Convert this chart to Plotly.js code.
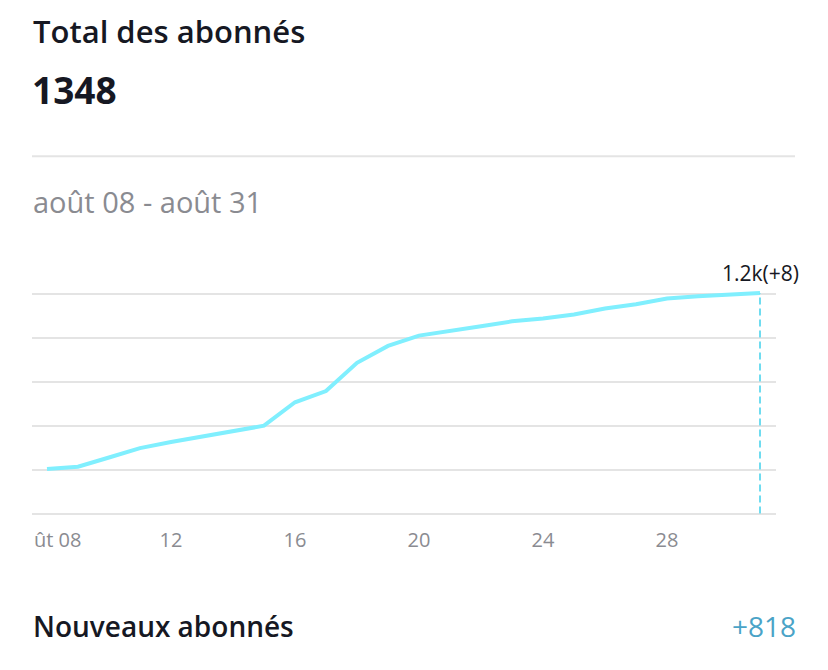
<!DOCTYPE html>
<html>
<head>
<meta charset="utf-8">
<script src="https://cdn.plot.ly/plotly-3.0.1.min.js"></script>
<style>
  html, body { margin: 0; padding: 0; background: #ffffff; width: 828px; height: 670px; overflow: hidden; }
  #chart { position: absolute; left: 32px; top: 0; width: 796px; height: 670px; overflow: hidden; }
</style>
</head>
<body>
<div id="chart"></div>
<script>
// Data
const days = [8, 9, 10, 11, 12, 13, 14, 15, 16, 17, 18, 19, 20, 21, 22, 23, 24, 25, 26, 27, 28, 29, 30, 31];
const followers = [404, 414, 456, 499, 527, 551, 576, 601, 708, 759, 888, 965, 1012, 1032, 1055, 1077, 1090, 1108, 1136, 1155, 1181, 1191, 1197, 1206];
const tickDays = [8, 12, 16, 20, 24, 28];
const tickLabels = ['ût 08', '12', '16', '20', '24', '28'];
const gridVals = [200, 400, 600, 800, 1000, 1200];
const titleText = 'Total des abonnés';
const totalText = '1348';
const rangeText = 'août 08 - août 31';
const lastLabel = '1.2k(+8)';
const newLabel = 'Nouveaux abonnés';
const newValue = '+818';

const FONT = '"Open Sans", Lato, sans-serif';
const DARK = '#161823';
const GRAY = '#8a8b91';

const lastDay = days[days.length - 1];
const lastVal = followers[followers.length - 1];

// plot area: y=200 at 514px, y=1200 at 294px (0.22 px per unit); range padded by 20
const Y0 = 180, Y1 = 1220;
const pyTop = 294 - 20 * 0.22, pyBot = 514 + 20 * 0.22;
const ph = pyBot - pyTop;
const py = (pix) => (pyBot - pix) / ph;

// first tick label is cut by the card's left edge in the reference: draw its visible part flush with the plot's left edge
const shownTickText = tickLabels.map((t, i) => (i === 0 ? '' : t));

const trace = {
  x: days,
  y: followers,
  type: 'scatter',
  mode: 'lines',
  line: { color: '#80effe', width: 4 },
  cliponaxis: false,
  hoverinfo: 'skip'
};

const layout = {
  width: 796,
  height: 670,
  margin: { l: 0, r: 52, t: pyTop, b: 670 - pyBot, pad: 0 },
  paper_bgcolor: '#ffffff',
  plot_bgcolor: '#ffffff',
  showlegend: false,
  font: { family: FONT, color: DARK },
  xaxis: {
    range: [7.516, 31.516],
    tickvals: tickDays,
    ticktext: shownTickText,
    ticklabelstandoff: 8,
    showgrid: false,
    zeroline: false,
    showline: false,
    ticks: '',
    tickfont: { family: FONT, size: 20, color: GRAY },
    fixedrange: true
  },
  yaxis: {
    range: [Y0, Y1],
    tickvals: gridVals,
    showticklabels: false,
    showgrid: true,
    gridcolor: '#e4e4e4',
    gridwidth: 2,
    zeroline: false,
    showline: false,
    ticks: '',
    fixedrange: true
  },
  shapes: [
    {
      type: 'line', xref: 'paper', yref: 'paper',
      x0: 0, x1: 763 / 744, y0: py(155.3), y1: py(155.3),
      line: { color: '#e4e4e4', width: 2 }
    },
    {
      type: 'line', xref: 'x', yref: 'y',
      x0: lastDay, x1: lastDay, y0: 200, y1: lastVal,
      line: { color: '#6fdcf0', width: 2, dash: '7px,4px' }
    }
  ],
  annotations: [
    {
      text: tickLabels[0], xref: 'paper', yref: 'paper', x: 0, y: py(540),
      xanchor: 'left', yanchor: 'middle', showarrow: false,
      font: { family: FONT, size: 20, color: GRAY }
    },
    {
      text: titleText, xref: 'paper', yref: 'paper', x: 0, y: py(30), xshift: -1,
      xanchor: 'left', yanchor: 'middle', showarrow: false,
      font: { family: FONT, size: 31, color: DARK, weight: 600 }
    },
    {
      text: totalText, xref: 'paper', yref: 'paper', x: 0, y: py(88), xshift: -2,
      xanchor: 'left', yanchor: 'middle', showarrow: false,
      font: { family: FONT, size: 37, color: DARK, weight: 700 }
    },
    {
      text: rangeText, xref: 'paper', yref: 'paper', x: 0, y: py(201), xshift: -1,
      xanchor: 'left', yanchor: 'middle', showarrow: false,
      font: { family: FONT, size: 29, color: GRAY }
    },
    {
      text: lastLabel, xref: 'x', yref: 'y', x: lastDay, y: lastVal,
      xanchor: 'center', yanchor: 'bottom', yshift: 4, showarrow: false,
      font: { family: FONT, size: 21, color: DARK }
    },
    {
      text: newLabel, xref: 'paper', yref: 'paper', x: 0, y: py(627), xshift: -1,
      xanchor: 'left', yanchor: 'middle', showarrow: false,
      font: { family: FONT, size: 28, color: DARK, weight: 600 }
    },
    {
      text: newValue, xref: 'paper', yref: 'paper', x: 763 / 744, y: py(627), xshift: 3,
      xanchor: 'right', yanchor: 'middle', showarrow: false,
      font: { family: FONT, size: 28, color: '#4aa3c7' }
    }
  ]
};

Plotly.newPlot('chart', [trace], layout, { displayModeBar: false, staticPlot: true });
</script>
</body>
</html>
